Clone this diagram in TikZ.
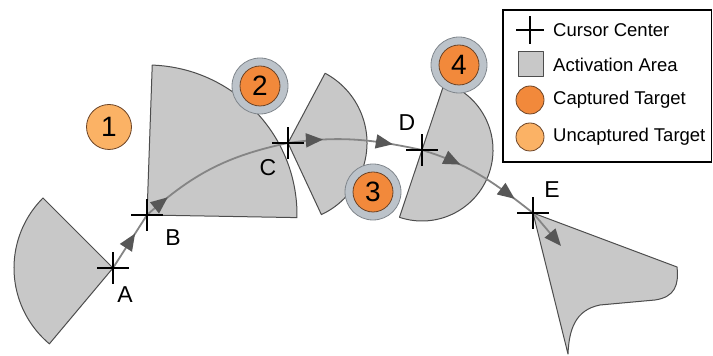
\documentclass[tikz,border=0pt]{standalone}
\usepackage{fontspec}
\setmainfont{Liberation Sans}
\usetikzlibrary{arrows.meta,decorations.markings}
\definecolor{areagray}{HTML}{C8C8C8}
\definecolor{edgegray}{HTML}{4D4D4D}
\definecolor{pathgray}{HTML}{858585}
\definecolor{tipgray}{HTML}{575757}
\definecolor{captorange}{HTML}{F2893B}
\definecolor{uncaptorange}{HTML}{FBB265}
\definecolor{ringgray}{HTML}{BCC3CA}
\definecolor{ringedge}{HTML}{80868C}
\definecolor{dotedge}{HTML}{6B4326}

\begin{document}
\begin{tikzpicture}[x=1pt,y=1pt]
    \tikzset{
      area/.style={draw=edgegray,fill=areagray,line width=1pt,line join=round},
      flow/.style={draw=pathgray,line width=1.8pt},
      tip/.style={postaction={decorate,decoration={markings,mark=at position #1 with {\arrow{Triangle[length=17pt,width=14pt,color=tipgray]}}}}},
      cursor/.pic={\draw[line width=1.8pt] (-16,0) -- (16,0) (0,-16) -- (0,16);},
      lbl/.style={font=\fontsize{23}{27}\selectfont,inner sep=0pt},
      ring/.style={circle,draw=ringedge,fill=ringgray,line width=0.8pt,minimum size=56pt,inner sep=0pt},
      captured/.style={circle,draw=dotedge,fill=captorange,line width=0.8pt,minimum size=40pt,inner sep=0pt,font=\fontsize{28}{32}\selectfont},
      uncaptured/.style={circle,draw=dotedge,fill=uncaptorange,line width=0.8pt,minimum size=45pt,inner sep=0pt,font=\fontsize{28}{32}\selectfont},
      legtext/.style={anchor=west,font=\fontsize{18.5}{22}\selectfont,inner sep=0pt}
    }
    \useasboundingbox (0,0) rectangle (713,356);
    % cursor centers
    \coordinate (A) at (113,88);
    \coordinate (B) at (147,141);
    \coordinate (C) at (288,213);
    \coordinate (D) at (422,206);
    \coordinate (E) at (533,143);
    \coordinate (end) at (561,110);
    % activation areas
    \draw[area] (A) -- ++(135:99) arc[start angle=135,end angle=230,radius=99] -- cycle;
    \draw[area] (B) -- ++(-1:150) arc[start angle=-1,end angle=88,radius=150] -- cycle;
    \draw[area] (C) -- ++(-65:79) arc[start angle=-65,end angle=62,radius=79] -- cycle;
    \draw[area] (D) ++(-108.5:71) arc[start angle=-108.5,end angle=71.5,radius=71] -- cycle;
    \draw[area] (E) -- (677,89) .. controls (679,71) and (675,59) .. (655,56)
      -- (600,51) .. controls (575,46) and (569,26) .. (568,2) -- cycle;
    % cursor path
    \draw[flow,tip=0.65] (A) -- (B);
    \draw[flow,tip=0.17] (B) to[out=42,in=192] (C);
    \draw[flow,tip=0.26,tip=0.78] (C) to[out=8,in=168] (D);
    \draw[flow,tip=0.32,tip=0.82] (D) to[out=-17,in=142] (E);
    \draw[flow,-{Triangle[length=17pt,width=14pt,color=tipgray]}] (E) -- (end);
    \foreach \c in {A,B,C,D,E}
      \pic at (\c) {cursor};
    \node[lbl] (la) at (125,61) {A};
    \node[lbl] (lb) at (173,118) {B};
    \node[lbl] (lc) at (268,188) {C};
    \node[lbl] (ld) at (407,233) {D};
    \node[lbl] (le) at (552,166) {E};
    % targets
    \node[uncaptured] (t1) at (109,229) {1};
    \node[ring] (r2) at (260,270) {};
    \node[captured] (t2) at (r2) {2};
    \node[ring] (r3) at (373,164) {};
    \node[captured] (t3) at (r3) {3};
    \node[ring] (r4) at (459,291) {};
    \node[captured] (t4) at (r4) {4};
    % legend
    \draw[line width=1.2pt] (503,194) rectangle (711.5,346);
    \pic[scale=0.85] at (530,326) {cursor};
    \node[area,minimum size=25pt,inner sep=0pt] (lsq) at (530.5,291.5) {};
    \node[captured,minimum size=28pt] (lcap) at (530,256) {};
    \node[uncaptured,minimum size=28pt] (lunc) at (530,219) {};
    \node[legtext] at (553,326) {Cursor Center};
    \node[legtext] at (553,291) {Activation Area};
    \node[legtext] at (553,256) {Captured Target};
    \node[legtext] at (553,219) {Uncaptured Target};
  \end{tikzpicture}
\end{document}
